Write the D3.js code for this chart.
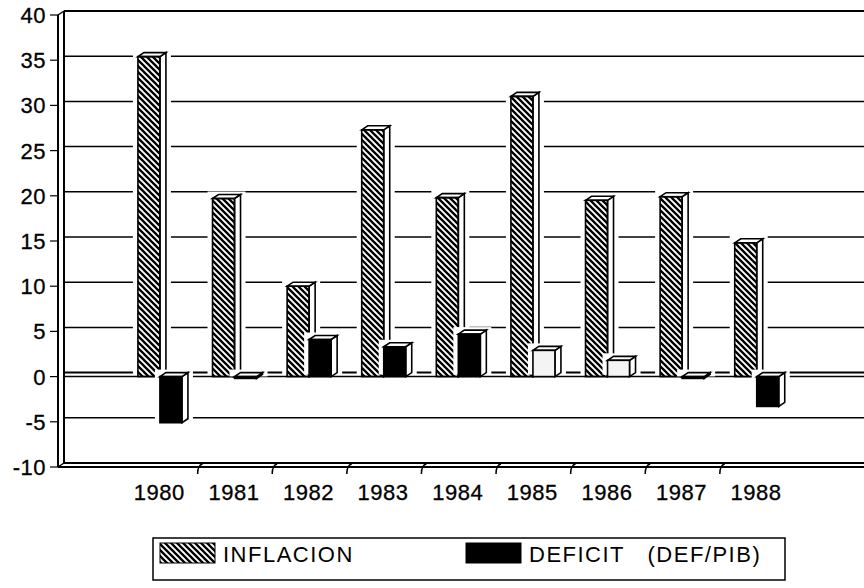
<!DOCTYPE html>
<html>
<head>
  <meta charset="UTF-8">
	<style>
		body { margin: 0; background: #fff; }
		.axis-marks {
			font-size: 22px;
			font-family: 'Liberation Sans', Arial, sans-serif;
			letter-spacing: 0.5px;
		}
		.legend-label {
			font-size: 22px;
			font-family: 'Liberation Sans', Arial, sans-serif;
			letter-spacing: 1.5px;
		}
	</style>
</head>
<body>
	<script src="https://d3js.org/d3.v7.min.js"></script>
	<svg id="chart" width="864" height="588"></svg>
	<script>
		// data
		let years = ["1980", "1981", "1982", "1983", "1984", "1985", "1986", "1987", "1988"];
		let inflacion = [35.4, 19.7, 10.0, 27.3, 19.8, 31.0, 19.5, 19.9, 14.8];
		let deficit = [-5.1, -0.2, 4.1, 3.3, 4.7, 2.9, 1.8, -0.2, -3.3];
		let yTicks = [40, 35, 30, 25, 20, 15, 10, 5, 0, -5, -10];
		let seriesNames = ["INFLACION", "DEFICIT   (DEF/PIB)"];

		let left = 58, right = 864, depthX = 6, depthY = -4;

		let svg = d3.select("#chart");

		// hatch for the inflation bars
		let defs = svg.append("defs");
		defs.append("pattern")
				.attr("id", "hatch")
				.attr("patternUnits", "userSpaceOnUse")
				.attr("width", 6)
				.attr("height", 6)
			.append("path")
				.attr("d", "M0,0 L6,6 M-1,5 L1,7 M5,-1 L7,1")
				.attr("stroke", "#000")
				.attr("stroke-width", 2.3);

		let y = d3.scaleLinear()
			.domain([-10, 40])
			.range([467, 15]);

		let x = d3.scaleBand()
			.domain(years)
			.range([123, 123 + 9 * 74.6]);

		let bw = x.bandwidth() * 0.295;
		let offset = x.bandwidth() * 0.2;

		// back wall gridlines
		svg.append("g")
			.selectAll("line")
			.data(yTicks)
			.enter()
			.append("line")
				.attr("x1", left + depthX)
				.attr("x2", right)
				.attr("y1", d => y(d) + depthY)
				.attr("y2", d => y(d) + depthY)
				.attr("stroke", "#000")
				.attr("stroke-width", d => (d == 40 || d == -10 || d == 0) ? 2 : 1.5);

		// front floor line at zero
		svg.append("line")
			.attr("x1", left + depthX)
			.attr("x2", right)
			.attr("y1", y(0))
			.attr("y2", y(0))
			.attr("stroke", "#000")
			.attr("stroke-width", 1.5);

		// back wall left edge
		svg.append("line")
			.attr("x1", left + depthX).attr("x2", left + depthX)
			.attr("y1", y(40) + depthY).attr("y2", y(-10) + depthY)
			.attr("stroke", "#000").attr("stroke-width", 2);

		// bars, drawn as boxes
		function box(g, x0, v, fill) {
			let top = Math.min(y(0), y(v)), bottom = Math.max(y(0), y(v));
			// white halo so the gridlines break around the bar
			g.append("rect")
				.attr("x", x0 - 5)
				.attr("y", top + depthY - 3)
				.attr("width", bw + depthX + 10)
				.attr("height", bottom - top + 5)
				.attr("fill", "#fff");
			g.append("path")
				.attr("d", "M" + (x0 + bw) + "," + top + " L" + (x0 + bw + depthX) + "," + (top + depthY) +
					" L" + (x0 + bw + depthX) + "," + (bottom + depthY) + " L" + (x0 + bw) + "," + bottom + "Z")
				.attr("fill", "#fff").attr("stroke", "#000").attr("stroke-width", 1.6);
			g.append("path")
				.attr("d", "M" + x0 + "," + top + " L" + (x0 + depthX) + "," + (top + depthY) +
					" L" + (x0 + bw + depthX) + "," + (top + depthY) + " L" + (x0 + bw) + "," + top + "Z")
				.attr("fill", "#fff").attr("stroke", "#000").attr("stroke-width", 1.6);
			g.append("rect")
				.attr("x", x0)
				.attr("y", top)
				.attr("width", bw)
				.attr("height", Math.max(bottom - top, 1))
				.attr("fill", fill)
				.attr("stroke", "#000")
				.attr("stroke-width", 1.6);
		}

		let bars = svg.append("g");
		years.forEach((yr, i) => {
			let g = bars.append("g");
			box(g, x(yr) + offset, inflacion[i], "url(#hatch)");
			// 1985 and 1986 deficit bars came out pale in the scan
			let fill = (yr == "1985" || yr == "1986") ? "#f4f4f4" : "#000";
			box(g, x(yr) + offset + bw, deficit[i], fill);
		});

		// front axes
		svg.append("line")
			.attr("x1", left).attr("x2", left)
			.attr("y1", y(40)).attr("y2", y(-10))
			.attr("stroke", "#000").attr("stroke-width", 2);
		svg.append("line")
			.attr("x1", left).attr("x2", right)
			.attr("y1", y(-10)).attr("y2", y(-10))
			.attr("stroke", "#000").attr("stroke-width", 2);
		svg.append("path")
			.attr("d", "M" + left + "," + y(40) + " L" + (left + depthX) + "," + (y(40) + depthY) +
				" M" + left + "," + y(-10) + " L" + (left + depthX) + "," + (y(-10) + depthY))
			.attr("stroke", "#000").attr("stroke-width", 1.5).attr("fill", "none");

		// Y axis ticks and labels
		let yAxis = svg.append("g").attr("class", "axis-marks");
		yAxis.selectAll("line")
			.data(yTicks)
			.enter()
			.append("line")
				.attr("x1", 50).attr("x2", left)
				.attr("y1", d => y(d)).attr("y2", d => y(d))
				.attr("stroke", "#000").attr("stroke-width", 1.2);
		yAxis.selectAll("text")
			.data(yTicks)
			.enter()
			.append("text")
				.attr("x", 46)
				.attr("y", d => y(d) + 8)
				.attr("text-anchor", "end")
				.attr("stroke", "#000")
				.attr("stroke-width", 0.3)
				.text(d => d);

		// X axis ticks between categories and labels
		let xAxis = svg.append("g").attr("class", "axis-marks");
		xAxis.selectAll("path")
			.data(years.slice(1))
			.enter()
			.append("path")
				.attr("d", d => "M" + (x(d) + 5) + "," + (y(-10) - 3) + " Q" + x(d) + "," + (y(-10) - 2) + " " + x(d) + "," + (y(-10) + 7))
				.attr("fill", "none").attr("stroke", "#000").attr("stroke-width", 1.5);
		xAxis.selectAll("text")
			.data(years)
			.enter()
			.append("text")
				.attr("x", d => x(d) + x.bandwidth() / 2 - 1)
				.attr("y", 500)
				.attr("text-anchor", "middle")
				.attr("stroke", "#000")
				.attr("stroke-width", 0.3)
				.text(d => d);

		// legend
		let legend = svg.append("g");
		legend.append("rect")
			.attr("x", 153).attr("y", 538).attr("width", 632).attr("height", 42)
			.attr("fill", "none").attr("stroke", "#000").attr("stroke-width", 1.5);
		let legendX = [160, 466];
		let legendFill = ["url(#hatch)", "#000"];
		seriesNames.forEach((name, i) => {
			legend.append("rect")
				.attr("x", legendX[i]).attr("y", 543).attr("width", 55).attr("height", 20)
				.attr("fill", legendFill[i]).attr("stroke", "#000").attr("stroke-width", 1);
			legend.append("text")
				.attr("class", "legend-label")
				.attr("x", legendX[i] + 63)
				.attr("y", 562)
				.style("white-space", "pre")
				.text(name);
		});
	</script>
</body>
</html>
